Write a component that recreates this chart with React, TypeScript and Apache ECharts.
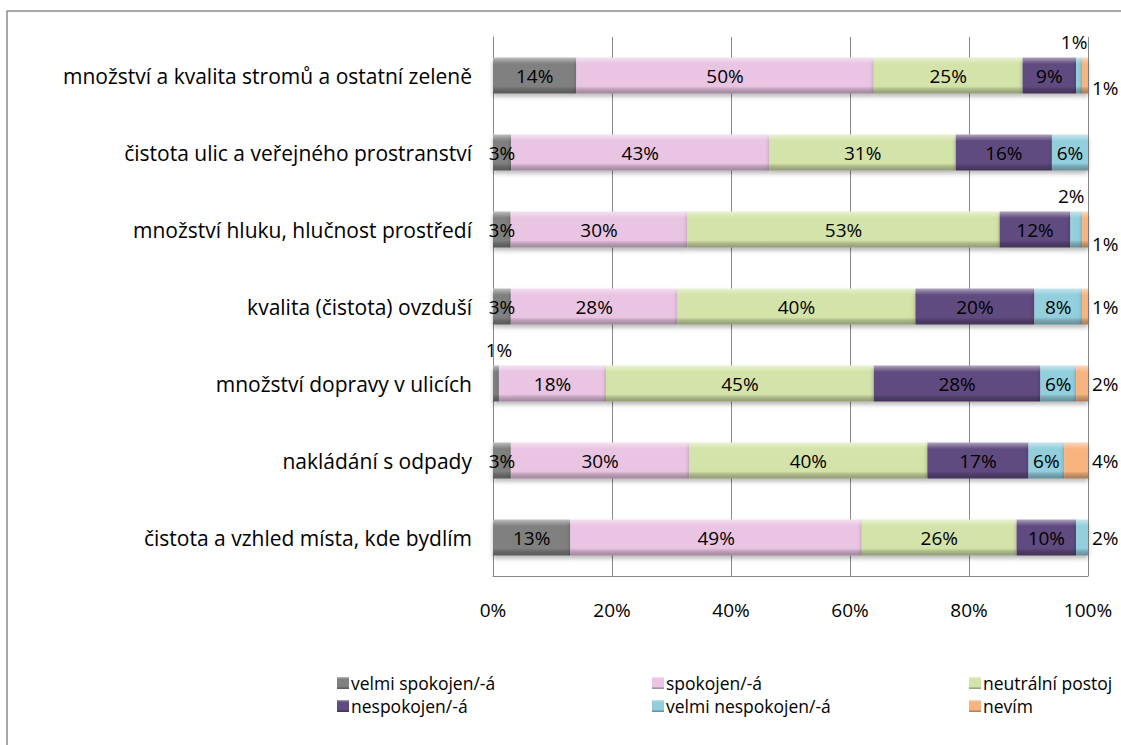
import React, { useEffect, useRef } from 'react';
import * as echarts from 'echarts';

const categories = [
  'množství a kvalita stromů a ostatní zeleně',
  'čistota ulic a veřejného prostranství',
  'množství hluku, hlučnost prostředí',
  'kvalita (čistota) ovzduší',
  'množství dopravy v ulicích',
  'nakládání s odpady',
  'čistota a vzhled místa, kde bydlím',
];

const seriesNames = [
  'velmi spokojen/-á',
  'spokojen/-á',
  'neutrální postoj',
  'nespokojen/-á',
  'velmi nespokojen/-á',
  'nevím',
];

const velmiSpokojen = [14, 3, 3, 3, 1, 3, 13];
const spokojen = [50, 43, 30, 28, 18, 30, 49];
const neutralni = [25, 31, 53, 40, 45, 40, 26];
const nespokojen = [9, 16, 12, 20, 28, 17, 10];
const velmiNespokojen = [1, 6, 2, 8, 6, 6, 2];
const nevim = [1, 0, 1, 1, 2, 4, 0];

const xTicks = [0, 20, 40, 60, 80, 100];

const allSeries = [velmiSpokojen, spokojen, neutralni, nespokojen, velmiNespokojen, nevim];
const baseColors = ['#808080', '#e9c4e3', '#d4e3a9', '#604b80', '#93cedd', '#f7b47f'];

// special label placements: `${seriesIndex}-${rowIndex}`
const labelPlacement: Record<string, { position: string; offset: number[] }> = {
  '4-0': { position: 'top', offset: [-5, -2] },
  '5-0': { position: 'right', offset: [0, 12] },
  '4-2': { position: 'top', offset: [-5, -2] },
  '5-2': { position: 'right', offset: [0, 14] },
  '5-3': { position: 'right', offset: [0, 0] },
  '0-4': { position: 'top', offset: [3, -2] },
  '5-4': { position: 'right', offset: [0, 0] },
  '5-5': { position: 'right', offset: [0, 0] },
  '4-6': { position: 'right', offset: [0, 0] },
};

function mix(hex: string, target: number, t: number) {
  const n = parseInt(hex.slice(1), 16);
  const r = (n >> 16) & 255, g = (n >> 8) & 255, b = n & 255;
  const f = (c: number) => Math.round(c + (target - c) * t);
  return `rgb(${f(r)},${f(g)},${f(b)})`;
}

function barGradient(hex: string) {
  return new echarts.graphic.LinearGradient(0, 0, 0, 1, [
    { offset: 0, color: mix(hex, 255, 0.5) },
    { offset: 0.1, color: mix(hex, 255, 0.2) },
    { offset: 0.18, color: hex },
    { offset: 0.8, color: hex },
    { offset: 0.88, color: mix(hex, 0, 0.18) },
    { offset: 1, color: mix(hex, 0, 0.32) },
  ]);
}

const FONT = '"Open Sans"';

export default function App() {
  const ref = useRef<HTMLDivElement>(null);
  useEffect(() => {
    if (!ref.current) return;
    const chart = echarts.init(ref.current, null, { renderer: 'svg' });
    const rowSums = categories.map((_, i) => allSeries.reduce((s, a) => s + a[i], 0));

    const series = allSeries.map((arr, si) => ({
      name: seriesNames[si],
      type: 'bar',
      stack: 'total',
      barWidth: 36,
      itemStyle: {
        color: barGradient(baseColors[si]),
        shadowColor: 'rgba(0,0,0,0.28)',
        shadowBlur: 4,
        shadowOffsetY: 3,
      },
      label: {
        show: true,
        position: 'inside',
        color: '#000',
        fontFamily: FONT,
        fontSize: 19,
        formatter: (p: any) => (arr[p.dataIndex] ? arr[p.dataIndex] + '%' : ''),
      },
      data: arr.map((v, ri) => {
        const item: any = { value: (v / rowSums[ri]) * 100 };
        const lp = labelPlacement[`${si}-${ri}`];
        if (lp) item.label = { position: lp.position, offset: lp.offset, distance: 4 };
        return item;
      }),
    }));

    const legendCol = (left: number, names: string[]) => ({
      orient: 'vertical',
      left,
      top: 669,
      itemGap: 5,
      itemWidth: 12,
      itemHeight: 12,
      icon: 'rect',
      data: names,
      textStyle: {
        fontFamily: FONT,
        fontSize: 17.5,
        lineHeight: 18,
        color: '#000',
        padding: [0, 0, 0, -3],
      },
    });

    chart.setOption({
      animation: false,
      backgroundColor: '#fff',
      grid: { left: 493, right: 33, top: 37, bottom: 169, containLabel: false },
      xAxis: {
        type: 'value',
        min: 0,
        max: 100,
        interval: 20,
        axisLine: { show: true, lineStyle: { color: '#888', width: 1 } },
        axisTick: { show: false },
        splitLine: { show: true, lineStyle: { color: '#888', width: 1 } },
        axisLabel: {
          margin: 24,
          fontFamily: FONT,
          fontSize: 19,
          color: '#000',
          formatter: (v: number) => (xTicks.includes(v) ? v + '%' : ''),
        },
      },
      yAxis: {
        type: 'category',
        inverse: true,
        data: categories,
        axisLine: { show: true, lineStyle: { color: '#888', width: 1 } },
        axisTick: { show: false },
        axisLabel: { margin: 21, fontFamily: FONT, fontSize: 21, color: '#000' },
      },
      legend: [
        legendCol(332, [seriesNames[0], seriesNames[3]]),
        legendCol(647, [seriesNames[1], seriesNames[4]]),
        legendCol(964, [seriesNames[2], seriesNames[5]]),
      ],
      graphic: [
        {
          type: 'rect',
          shape: { x: 7, y: 11, width: 1400, height: 1000 },
          style: { fill: 'none', stroke: '#8c8c8c', lineWidth: 1.5 },
          silent: true,
        },
      ],
      series,
    });
    return () => chart.dispose();
  }, []);
  return (
    <div
      ref={ref}
      style={{ position: 'fixed', left: 0, top: 0, width: 1121, height: 745, background: '#fff' }}
    />
  );
}
